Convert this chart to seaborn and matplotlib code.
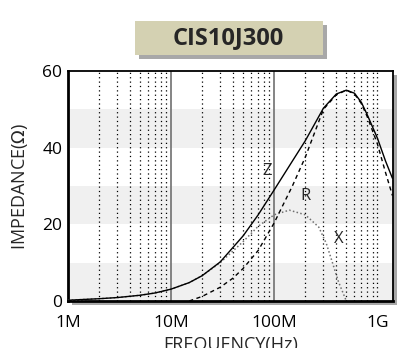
import matplotlib
matplotlib.use("Agg")
import matplotlib.pyplot as plt
import matplotlib.ticker as mticker
from matplotlib.patches import Rectangle
import seaborn as sns
import pandas as pd

# Данные (частота в Гц, импеданс в Ом)
freq_z = [1e6, 2e6, 3e6, 5e6, 7e6, 10e6, 15e6, 20e6, 30e6, 50e6, 70e6, 100e6, 150e6,
          200e6, 300e6, 400e6, 500e6, 600e6, 700e6, 800e6, 1000e6, 1200e6, 1400e6]
z_vals = [0.2, 0.6, 0.9, 1.5, 2.1, 3.1, 4.8, 6.6, 10.2, 17.0, 22.5, 29.0, 36.5,
          41.8, 50.3, 54.0, 55.0, 54.2, 51.8, 48.5, 42.5, 36.5, 32.0]

freq_r = [15e6, 20e6, 30e6, 40e6, 50e6, 70e6, 100e6, 150e6, 200e6, 300e6, 400e6,
          500e6, 600e6, 700e6, 800e6, 1000e6, 1200e6, 1400e6]
r_vals = [0.0, 1.2, 3.6, 6.0, 8.5, 13.2, 20.4, 30.0, 37.5, 50.0, 53.8,
          55.0, 54.0, 51.5, 48.0, 41.0, 33.5, 27.5]

freq_x = [1e6, 2e6, 3e6, 5e6, 7e6, 10e6, 15e6, 20e6, 30e6, 50e6, 70e6, 100e6, 140e6,
          200e6, 270e6, 320e6, 360e6, 420e6, 500e6]
x_vals = [0.2, 0.6, 0.9, 1.5, 2.1, 3.1, 4.8, 6.6, 10.0, 15.5, 19.5, 22.5, 23.7,
          22.5, 19.3, 15.0, 10.7, 5.0, 0.0]

y_ticks = [0, 20, 40, 60]
x_ticks = [1e6, 1e7, 1e8, 1e9]
x_tick_labels = ["1M", "10M", "100M", "1G"]

sns.set_style("white")
plt.rcParams['font.family'] = ['Open Sans', 'DejaVu Sans']

fig = plt.figure(figsize=(4.04, 3.48), dpi=100)
ax = fig.add_axes([0.168, 0.135, 0.805, 0.661])
ax.set_zorder(2)

# Тень рамки графика
fig.patches.append(Rectangle((0.168 + 0.010, 0.135 - 0.012), 0.805, 0.661,
                             transform=fig.transFigure, facecolor="#a8a8a8",
                             edgecolor="none", zorder=1))

ax.set_xscale("log")
ax.set_xlim(1e6, 1.42e9)
ax.set_ylim(0, 60)

# Серые полосы
for lo in (0, 20, 40):
    ax.axhspan(lo, lo + 10, color="#f0f0f0", zorder=0, lw=0)

# Вертикальная сетка
minor = [m * 10 ** e for e in (6, 7, 8) for m in range(2, 10)] + [1e9]
for f in minor:
    ax.axvline(f, color="black", lw=0.9, ls=(0, (1, 2.5)), zorder=1)
for f in (1e7, 1e8):
    ax.axvline(f, color="#707070", lw=1.2, zorder=1)

df_z = pd.DataFrame({"f": freq_z, "v": z_vals})
df_r = pd.DataFrame({"f": freq_r, "v": r_vals})
df_x = pd.DataFrame({"f": freq_x, "v": x_vals})

sns.lineplot(data=df_x, x="f", y="v", ax=ax, color="#707070", lw=1.1,
             linestyle=(0, (1, 1.5)), zorder=3)
sns.lineplot(data=df_r, x="f", y="v", ax=ax, color="black", lw=1.0,
             linestyle=(0, (3, 2.5)), zorder=4)
sns.lineplot(data=df_z, x="f", y="v", ax=ax, color="black", lw=1.0, zorder=5)

ax.text(8.6e7, 34, "Z", fontsize=12, ha="center", va="center")
ax.text(2.0e8, 27.3, "R", fontsize=12, ha="center", va="center")
ax.text(4.2e8, 16.3, "X", fontsize=12, ha="center", va="center")

ax.set_xticks(x_ticks)
ax.set_xticklabels(x_tick_labels)
ax.xaxis.set_minor_locator(mticker.FixedLocator(minor))
ax.xaxis.set_minor_formatter(mticker.NullFormatter())
ax.set_yticks(y_ticks)
ax.set_yticks([10, 30, 50], minor=True)
ax.tick_params(axis="both", which="both", direction="in", labelsize=12.5,
               colors="black", pad=4)
ax.tick_params(axis="both", which="major", length=5, width=1)
ax.tick_params(axis="both", which="minor", length=4, width=1)
ax.tick_params(axis="x", which="major", length=0, pad=10)
for s in ax.spines.values():
    s.set_color("black")
    s.set_linewidth(1.3)
ax.spines["left"].set_linewidth(2)
ax.spines["bottom"].set_linewidth(2)

ax.set_xlabel("FREQUENCY(Hz)", fontsize=13, labelpad=4)
ax.set_ylabel(r"IMPEDANCE($\mathit{\Omega}$)", fontsize=13, labelpad=9)

# Заголовок в рамке с тенью
fig.patches.append(Rectangle((0.344, 0.83), 0.465, 0.098, transform=fig.transFigure,
                             facecolor="#a8a8a8", edgecolor="none"))
fig.patches.append(Rectangle((0.334, 0.843), 0.465, 0.098, transform=fig.transFigure,
                             facecolor="#d4d1b2", edgecolor="none"))
fig.text(0.566, 0.892, "CIS10J300", fontsize=17, fontweight="bold",
         ha="center", va="center")

fig.savefig("out.png", dpi=100)
plt.close(fig)
